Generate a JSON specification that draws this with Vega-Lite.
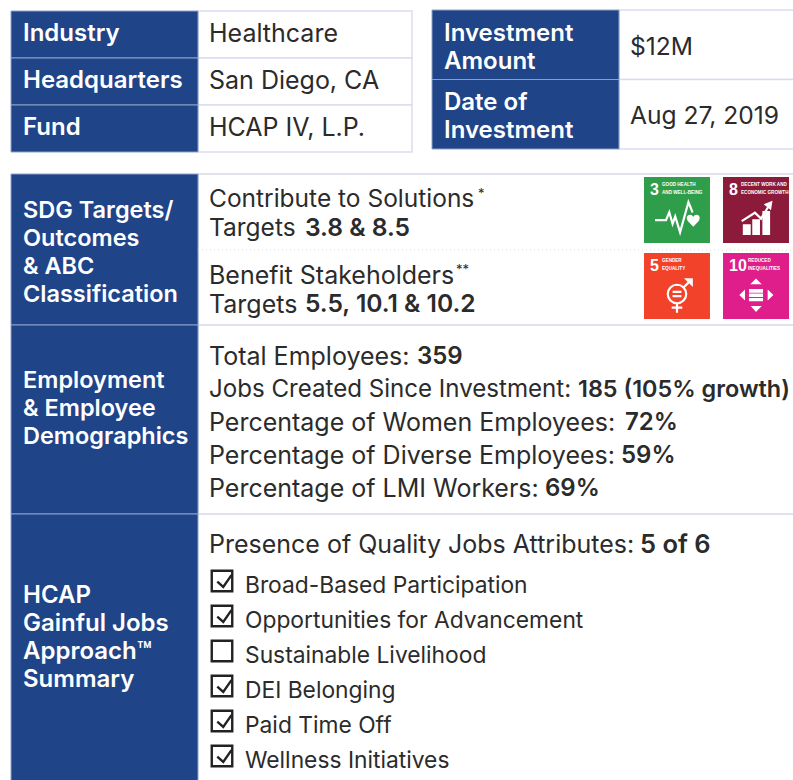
{"$schema":"https://vega.github.io/schema/vega-lite/v6.json","width":793,"height":780,"padding":0,"autosize":{"type":"none"},"background":"white","config":{"view":{"stroke":null},"axis":{"disable":true},"legend":{"disable":true},"text":{"font":"Inter","fontSize":25,"align":"left","baseline":"middle","lineBreak":"\n","lineHeight":28,"fill":"#2b2b2b"}},"resolve":{"scale":{"x":"independent","y":"independent","color":"independent","shape":"independent"}},"datasets":{"profile":[{"row":"Industry","value":"Healthcare"},{"row":"Headquarters","value":"San Diego, CA"},{"row":"Fund","value":"HCAP IV, L.P."}],"deal":[{"row":"Investment\nAmount","value":"$12M"},{"row":"Date of\nInvestment","value":"Aug 27, 2019"}],"sections":[{"key":"SDG","label":"SDG Targets/\nOutcomes\n& ABC\nClassification"},{"key":"EMP","label":"Employment\n& Employee\nDemographics"},{"key":"HCAP","label":"HCAP\nGainful Jobs\nApproach™\nSummary"}],"sdg":[{"block":"Contribute","line":"head","text":"Contribute to Solutions","bold":"","note":"*"},{"block":"Contribute","line":"targets","text":"Targets","bold":"3.8 & 8.5","note":""},{"block":"Benefit","line":"head","text":"Benefit Stakeholders","bold":"","note":"**"},{"block":"Benefit","line":"targets","text":"Targets","bold":"5.5, 10.1 & 10.2","note":""}],"employment":[{"metric":"Total Employees:","value":"359"},{"metric":"Jobs Created Since Investment:","value":"185 (105% growth)"},{"metric":"Percentage of Women Employees:","value":"72%"},{"metric":"Percentage of Diverse Employees:","value":"59%"},{"metric":"Percentage of LMI Workers:","value":"69%"}],"quality":[{"metric":"Presence of Quality Jobs Attributes:","value":"5 of 6"}],"attributes":[{"attribute":"Broad-Based Participation","present":true},{"attribute":"Opportunities for Advancement","present":true},{"attribute":"Sustainable Livelihood","present":false},{"attribute":"DEI Belonging","present":true},{"attribute":"Paid Time Off","present":true},{"attribute":"Wellness Initiatives","present":true}],"goals":[{"goal":"3","title":"GOOD HEALTH\nAND WELL-BEING","col":"a","tier":"top"},{"goal":"8","title":"DECENT WORK AND\nECONOMIC GROWTH","col":"b","tier":"top"},{"goal":"5","title":"GENDER\nEQUALITY","col":"a","tier":"bottom"},{"goal":"10","title":"REDUCED\nINEQUALITIES","col":"b","tier":"bottom"}]},"layer":[
{"data":{"name":"profile"},"mark":{"type":"rect","fill":"white","stroke":"#dcdcee","strokeWidth":1.5},"encoding":{"x":{"datum":0,"type":"quantitative","scale":{"domain":[0,1],"range":[198,412]}},"x2":{"datum":1},"y":{"field":"row","type":"nominal","scale":{"type":"band","domain":["Industry","Headquarters","Fund"],"range":[11,152],"paddingInner":0,"paddingOuter":0}}}},
{"data":{"name":"profile"},"mark":{"type":"rect","fill":"#1f4488","stroke":"#8fa0c8","strokeWidth":1},"encoding":{"x":{"datum":0,"type":"quantitative","scale":{"domain":[0,1],"range":[11,198]}},"x2":{"datum":1},"y":{"field":"row","type":"nominal","scale":{"type":"band","domain":["Industry","Headquarters","Fund"],"range":[11,152],"paddingInner":0,"paddingOuter":0}}}},
{"data":{"name":"profile"},"mark":{"type":"text","fill":"white","fontWeight":600,"fontSize":24},"encoding":{"text":{"field":"row"},"x":{"datum":"label","type":"nominal","scale":{"type":"point","domain":["label"],"range":[23,23],"padding":0}},"y":{"field":"row","type":"nominal","scale":{"type":"band","domain":["Industry","Headquarters","Fund"],"range":[10,151],"paddingInner":0,"paddingOuter":0}}}},
{"data":{"name":"profile"},"mark":{"type":"text"},"encoding":{"text":{"field":"value"},"x":{"datum":"value","type":"nominal","scale":{"type":"point","domain":["value"],"range":[209,209],"padding":0}},"y":{"field":"row","type":"nominal","scale":{"type":"band","domain":["Industry","Headquarters","Fund"],"range":[10,151],"paddingInner":0,"paddingOuter":0}}}},
{"data":{"name":"deal"},"mark":{"type":"rect","fill":"white","stroke":"#dcdcee","strokeWidth":1.5},"encoding":{"x":{"datum":0,"type":"quantitative","scale":{"domain":[0,1],"range":[619,810]}},"x2":{"datum":1},"y":{"field":"row","type":"nominal","scale":{"type":"band","domain":["Investment\nAmount","Date of\nInvestment"],"range":[10,149],"paddingInner":0,"paddingOuter":0}}}},
{"data":{"name":"deal"},"mark":{"type":"rect","fill":"#1f4488","stroke":"#8fa0c8","strokeWidth":1},"encoding":{"x":{"datum":0,"type":"quantitative","scale":{"domain":[0,1],"range":[432,619]}},"x2":{"datum":1},"y":{"field":"row","type":"nominal","scale":{"type":"band","domain":["Investment\nAmount","Date of\nInvestment"],"range":[10,149],"paddingInner":0,"paddingOuter":0}}}},
{"data":{"name":"deal"},"mark":{"type":"text","fill":"white","fontWeight":600,"fontSize":24},"encoding":{"text":{"field":"row"},"x":{"datum":"label","type":"nominal","scale":{"type":"point","domain":["label"],"range":[444,444],"padding":0}},"y":{"field":"row","type":"nominal","scale":{"type":"band","domain":["Investment\nAmount","Date of\nInvestment"],"range":[-0.5,137.5],"paddingInner":0,"paddingOuter":0}}}},
{"data":{"name":"deal"},"mark":{"type":"text","fontSize":24.6},"encoding":{"text":{"field":"value"},"x":{"datum":"value","type":"nominal","scale":{"type":"point","domain":["value"],"range":[630,630],"padding":0}},"y":{"field":"row","type":"nominal","scale":{"type":"band","domain":["Investment\nAmount","Date of\nInvestment"],"range":[13,151],"paddingInner":0,"paddingOuter":0}}}},
{"data":{"name":"sections"},"transform":[{"filter":"datum.key=='SDG'"}],"mark":{"type":"rect","fill":"white","stroke":"#e2e2ec","strokeWidth":2},"encoding":{"x":{"datum":0,"type":"quantitative","scale":{"domain":[0,1],"range":[198,810]}},"x2":{"datum":1},"y":{"field":"key","type":"nominal","scale":{"type":"band","domain":["SDG"],"range":[174,325],"paddingInner":0,"paddingOuter":0}}}},
{"data":{"name":"sections"},"transform":[{"filter":"datum.key=='EMP'"}],"mark":{"type":"rect","fill":"white","stroke":"#e2e2ec","strokeWidth":2},"encoding":{"x":{"datum":0,"type":"quantitative","scale":{"domain":[0,1],"range":[198,810]}},"x2":{"datum":1},"y":{"field":"key","type":"nominal","scale":{"type":"band","domain":["EMP"],"range":[325,514],"paddingInner":0,"paddingOuter":0}}}},
{"data":{"name":"sections"},"transform":[{"filter":"datum.key=='SDG'"}],"mark":{"type":"rect","fill":"#1f4488","stroke":"#8fa0c8","strokeWidth":1},"encoding":{"x":{"datum":0,"type":"quantitative","scale":{"domain":[0,1],"range":[11,198]}},"x2":{"datum":1},"y":{"field":"key","type":"nominal","scale":{"type":"band","domain":["SDG"],"range":[174,325],"paddingInner":0,"paddingOuter":0}}}},
{"data":{"name":"sections"},"transform":[{"filter":"datum.key=='EMP'"}],"mark":{"type":"rect","fill":"#1f4488","stroke":"#8fa0c8","strokeWidth":1},"encoding":{"x":{"datum":0,"type":"quantitative","scale":{"domain":[0,1],"range":[11,198]}},"x2":{"datum":1},"y":{"field":"key","type":"nominal","scale":{"type":"band","domain":["EMP"],"range":[325,514],"paddingInner":0,"paddingOuter":0}}}},
{"data":{"name":"sections"},"transform":[{"filter":"datum.key=='HCAP'"}],"mark":{"type":"rect","fill":"#1f4488","stroke":"#8fa0c8","strokeWidth":1},"encoding":{"x":{"datum":0,"type":"quantitative","scale":{"domain":[0,1],"range":[11,198]}},"x2":{"datum":1},"y":{"field":"key","type":"nominal","scale":{"type":"band","domain":["HCAP"],"range":[514,790],"paddingInner":0,"paddingOuter":0}}}},
{"data":{"name":"sections"},"transform":[{"filter":"datum.key=='SDG'"}],"mark":{"type":"text","fill":"white","fontWeight":600,"fontSize":23.5},"encoding":{"text":{"field":"label"},"x":{"datum":"label","type":"nominal","scale":{"type":"point","domain":["label"],"range":[23,23],"padding":0}},"y":{"field":"key","type":"nominal","scale":{"type":"point","domain":["SDG"],"range":[211,211],"padding":0}}}},
{"data":{"name":"sections"},"transform":[{"filter":"datum.key=='EMP'"}],"mark":{"type":"text","fill":"white","fontWeight":600,"fontSize":23.5},"encoding":{"text":{"field":"label"},"x":{"datum":"label","type":"nominal","scale":{"type":"point","domain":["label"],"range":[23,23],"padding":0}},"y":{"field":"key","type":"nominal","scale":{"type":"point","domain":["EMP"],"range":[381,381],"padding":0}}}},
{"data":{"name":"sections"},"transform":[{"filter":"datum.key=='HCAP'"}],"mark":{"type":"text","fill":"white","fontWeight":600,"fontSize":24},"encoding":{"text":{"field":"label"},"x":{"datum":"label","type":"nominal","scale":{"type":"point","domain":["label"],"range":[23,23],"padding":0}},"y":{"field":"key","type":"nominal","scale":{"type":"point","domain":["HCAP"],"range":[596,596],"padding":0}}}},
{"data":{"name":"sections"},"transform":[{"filter":"datum.key=='SDG'"}],"mark":{"type":"rule","stroke":"#d8d8d8","strokeDash":[1,3],"strokeWidth":1},"encoding":{"x":{"datum":0,"type":"quantitative","scale":{"domain":[0,1],"range":[198,793]}},"x2":{"datum":1},"y":{"field":"key","type":"nominal","scale":{"type":"point","domain":["SDG"],"range":[250,250],"padding":0}}}},
{"data":{"name":"sdg"},"transform":[{"filter":"datum.block=='Contribute'"}],"encoding":{"x":{"datum":"body","type":"nominal","scale":{"type":"point","domain":["body"],"range":[209,209],"padding":0}},"y":{"field":"line","type":"nominal","scale":{"type":"point","domain":["head","targets"],"range":[200,229],"padding":0}}},"layer":[{"mark":{"type":"text","fontSize":24.5},"encoding":{"text":{"field":"text"}}},{"mark":{"type":"text","dx":96,"fontWeight":600,"fontSize":24.6},"encoding":{"text":{"field":"bold"}}},{"mark":{"type":"text","dx":269,"dy":-6,"fontSize":13},"encoding":{"text":{"field":"note"}}}]},
{"data":{"name":"sdg"},"transform":[{"filter":"datum.block=='Benefit'"}],"encoding":{"x":{"datum":"body","type":"nominal","scale":{"type":"point","domain":["body"],"range":[209,209],"padding":0}},"y":{"field":"line","type":"nominal","scale":{"type":"point","domain":["head","targets"],"range":[276,305],"padding":0}}},"layer":[{"mark":{"type":"text"},"encoding":{"text":{"field":"text"}}},{"mark":{"type":"text","dx":96,"fontWeight":600,"fontSize":24.6},"encoding":{"text":{"field":"bold"}}},{"mark":{"type":"text","dx":247,"dy":-6,"fontSize":13},"encoding":{"text":{"field":"note"}}}]},
{"data":{"name":"employment"},"encoding":{"x":{"datum":"body","type":"nominal","scale":{"type":"point","domain":["body"],"range":[209,209],"padding":0}},"y":{"field":"metric","type":"nominal","scale":{"type":"point","domain":["Total Employees:","Jobs Created Since Investment:","Percentage of Women Employees:","Percentage of Diverse Employees:","Percentage of LMI Workers:"],"range":[357,489],"padding":0}}},"layer":[{"transform":[{"filter":"datum.value!='185 (105% growth)'"}],"mark":{"type":"text"},"encoding":{"text":{"field":"metric"}}},{"transform":[{"filter":"datum.value=='185 (105% growth)'"}],"mark":{"type":"text","fontSize":24.1},"encoding":{"text":{"field":"metric"}}},{"transform":[{"filter":"datum.value=='359'"}],"mark":{"type":"text","dx":208,"fontWeight":600,"fontSize":24},"encoding":{"text":{"field":"value"}}},{"transform":[{"filter":"datum.value=='185 (105% growth)'"}],"mark":{"type":"text","dx":369,"fontWeight":600,"fontSize":23.4},"encoding":{"text":{"field":"value"}}},{"transform":[{"filter":"datum.value=='72%'"}],"mark":{"type":"text","dx":416,"fontWeight":600,"fontSize":24},"encoding":{"text":{"field":"value"}}},{"transform":[{"filter":"datum.value=='59%'"}],"mark":{"type":"text","dx":412,"fontWeight":600,"fontSize":24},"encoding":{"text":{"field":"value"}}},{"transform":[{"filter":"datum.value=='69%'"}],"mark":{"type":"text","dx":336,"fontWeight":600,"fontSize":24},"encoding":{"text":{"field":"value"}}}]},
{"data":{"name":"quality"},"encoding":{"x":{"datum":"body","type":"nominal","scale":{"type":"point","domain":["body"],"range":[209,209],"padding":0}},"y":{"field":"metric","type":"nominal","scale":{"type":"point","domain":["Presence of Quality Jobs Attributes:"],"range":[545,545],"padding":0}}},"layer":[{"mark":{"type":"text"},"encoding":{"text":{"field":"metric"}}},{"mark":{"type":"text","dx":431,"fontWeight":600,"fontSize":25.5},"encoding":{"text":{"field":"value"}}}]},
{"data":{"name":"attributes"},"mark":{"type":"text","fontSize":22.8},"encoding":{"text":{"field":"attribute"},"x":{"datum":"body","type":"nominal","scale":{"type":"point","domain":["body"],"range":[245,245],"padding":0}},"y":{"field":"attribute","type":"nominal","sort":null,"scale":{"type":"point","domain":["Broad-Based Participation","Opportunities for Advancement","Sustainable Livelihood","DEI Belonging","Paid Time Off","Wellness Initiatives"],"range":[586,761],"padding":0}}}},
{"data":{"name":"attributes"},"mark":{"type":"point","shape":"square","size":420,"fill":"white","stroke":"#222222","strokeWidth":2.4,"opacity":1},"encoding":{"x":{"datum":"box","type":"nominal","scale":{"type":"point","domain":["box"],"range":[222,222],"padding":0}},"y":{"field":"attribute","type":"nominal","scale":{"type":"point","domain":["Broad-Based Participation","Opportunities for Advancement","Sustainable Livelihood","DEI Belonging","Paid Time Off","Wellness Initiatives"],"range":[581,756],"padding":0}}}},
{"data":{"name":"attributes"},"transform":[{"filter":"datum.present"}],"mark":{"type":"point","shape":"M-0.45,0.05L0.12,0.56L0.9,-0.56","size":441,"filled":false,"stroke":"#222222","strokeWidth":2.4,"opacity":1},"encoding":{"x":{"datum":"box","type":"nominal","scale":{"type":"point","domain":["box"],"range":[222,222],"padding":0}},"y":{"field":"attribute","type":"nominal","scale":{"type":"point","domain":["Broad-Based Participation","Opportunities for Advancement","Sustainable Livelihood","DEI Belonging","Paid Time Off","Wellness Initiatives"],"range":[581,756],"padding":0}}}},
{"data":{"name":"goals"},"mark":{"type":"rect"},"encoding":{"x":{"field":"col","type":"nominal","scale":{"type":"band","domain":["a","b"],"range":[644,789],"paddingInner":0.165,"paddingOuter":0}},"y":{"field":"tier","type":"nominal","scale":{"type":"band","domain":["top","bottom"],"range":[177,319],"paddingInner":0.132,"paddingOuter":0}},"fill":{"field":"goal","type":"nominal","scale":{"domain":["3","8","5","10"],"range":["#2f9e4a","#8c1a3a","#f2432a","#e01e8b"]}}}},
{"data":{"name":"goals"},"mark":{"type":"text","font":"Liberation Sans","fontWeight":"bold","fontSize":16,"fill":"white","dx":-27,"dy":-20},"encoding":{"text":{"field":"goal"},"x":{"field":"col","type":"nominal","scale":{"type":"band","domain":["a","b"],"range":[644,789],"paddingInner":0.165,"paddingOuter":0}},"y":{"field":"tier","type":"nominal","scale":{"type":"band","domain":["top","bottom"],"range":[177,319],"paddingInner":0.132,"paddingOuter":0}}}},
{"data":{"name":"goals"},"transform":[{"filter":"datum.goal!='10'"}],"mark":{"type":"text","font":"Liberation Sans","fontWeight":"bold","fontSize":4.6,"lineHeight":8,"fill":"white","dx":-15,"dy":-25},"encoding":{"text":{"field":"title"},"x":{"field":"col","type":"nominal","scale":{"type":"band","domain":["a","b"],"range":[644,789],"paddingInner":0.165,"paddingOuter":0}},"y":{"field":"tier","type":"nominal","scale":{"type":"band","domain":["top","bottom"],"range":[177,319],"paddingInner":0.132,"paddingOuter":0}}}},
{"data":{"name":"goals"},"transform":[{"filter":"datum.goal=='10'"}],"mark":{"type":"text","font":"Liberation Sans","fontWeight":"bold","fontSize":4.6,"lineHeight":8,"fill":"white","dx":-8,"dy":-25},"encoding":{"text":{"field":"title"},"x":{"field":"col","type":"nominal","scale":{"type":"band","domain":["a","b"],"range":[644,789],"paddingInner":0.165,"paddingOuter":0}},"y":{"field":"tier","type":"nominal","scale":{"type":"band","domain":["top","bottom"],"range":[177,319],"paddingInner":0.132,"paddingOuter":0}}}},
{"data":{"name":"goals"},"mark":{"type":"point","size":1936,"filled":false,"stroke":"white","strokeWidth":2.2,"opacity":1},"encoding":{"shape":{"field":"goal","type":"nominal","scale":{"domain":["3","8","5","10"],"range":["M-1,0.1L-0.5,0.1L-0.35,-0.26L-0.2,0.27L-0.08,-0.07L0.14,0.65L0.52,-0.72L0.71,-0.25","M-0.65,0.14L-0.05,-0.24L0.23,0.03L0.6,-0.58","M0.42,0A0.42,0.42 0 1 1 -0.42,0A0.42,0.42 0 1 1 0.42,0M0,0.42L0,0.85M-0.24,0.62L0.24,0.62M0.3,-0.3L0.62,-0.62","M0,0"]}},"x":{"field":"col","type":"nominal","scale":{"type":"band","domain":["a","b"],"range":[644,789],"paddingInner":0.165,"paddingOuter":0}},"y":{"field":"tier","type":"nominal","scale":{"type":"band","domain":["top","bottom"],"range":[185,327],"paddingInner":0.132,"paddingOuter":0}}}},
{"data":{"name":"goals"},"mark":{"type":"point","size":1936,"filled":true,"fill":"white","stroke":null,"opacity":1},"encoding":{"shape":{"field":"goal","type":"nominal","scale":{"domain":["3","8","5","10"],"range":["M0.74,0.4L0.5,0.15C0.4,0 0.45,-0.15 0.6,-0.15C0.68,-0.15 0.72,-0.1 0.74,-0.05C0.76,-0.1 0.8,-0.15 0.88,-0.15C1.03,-0.15 1.08,0 0.98,0.15Z","M-0.6,0.29H-0.24V0.77H-0.6ZM-0.17,0.06H0.18V0.77H-0.17ZM0.29,-0.32H0.64V0.77H0.29ZM0.75,-0.78L0.35,-0.62L0.68,-0.35Z","M-0.2,-0.15H0.2V-0.05H-0.2ZM-0.2,0.05H0.2V0.15H-0.2ZM0.72,-0.72L0.32,-0.72L0.72,-0.32Z","M0,-0.71L0.26,-0.44L-0.26,-0.44ZM-0.24,0.55L0.26,0.55L0,0.82ZM-0.76,0.05L-0.5,-0.21L-0.5,0.3ZM0.79,0.05L0.53,-0.21L0.53,0.3ZM-0.32,-0.23H0.32V-0.06H-0.32ZM-0.32,-0.02H0.32V0.14H-0.32ZM-0.32,0.18H0.32V0.33H-0.32Z"]}},"x":{"field":"col","type":"nominal","scale":{"type":"band","domain":["a","b"],"range":[644,789],"paddingInner":0.165,"paddingOuter":0}},"y":{"field":"tier","type":"nominal","scale":{"type":"band","domain":["top","bottom"],"range":[185,327],"paddingInner":0.132,"paddingOuter":0}}}}
]}
